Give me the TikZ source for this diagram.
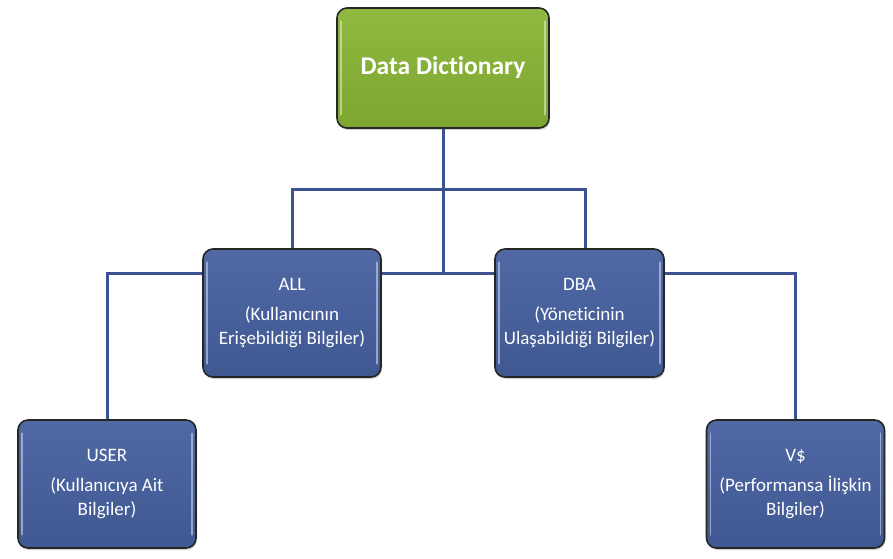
\documentclass[tikz,border=0pt]{standalone}
\usepackage{fontspec}
\setmainfont{Carlito}[Ligatures=NoCommon]
\usetikzlibrary{shadows}
\definecolor{ddgreen}{HTML}{7CA630}
\definecolor{ddgreentop}{HTML}{8FB940}
\definecolor{boxblue}{HTML}{405892}
\definecolor{boxbluetop}{HTML}{5068A4}
\definecolor{linkblue}{HTML}{3D5290}
\tikzset{
  box/.style={draw=black!85, line width=1.6pt, rounded corners=10pt,
    minimum width=178pt, minimum height=128pt, inner sep=2pt,
    align=center, text=white, font=\fontsize{19}{24}\selectfont,
    top color=boxbluetop, bottom color=boxblue,
    drop shadow={shadow xshift=1pt, shadow yshift=-2pt, opacity=0.35}},
  rootbox/.style={box, top color=ddgreentop, bottom color=ddgreen,
    minimum width=212pt, minimum height=120pt,
    font=\fontsize{25.5}{30}\selectfont\bfseries},
  link/.style={draw=linkblue, line width=3pt}
}
\begin{document}
\begin{tikzpicture}[x=1pt, y=-1pt]
  \useasboundingbox (0,0) rectangle (893,558);
  % kutular
  \node[rootbox] (dd) at (443,68) {\raisebox{-3pt}{Data Dictionary}};
  \node[box] (all) at (292,313) {ALL\\[6pt](Kullanıcının\\Erişebildiği Bilgiler)};
  \node[box, minimum width=169pt] (dba) at (579.5,313) {DBA\\[6pt](Yöneticinin\\Ulaşabildiği Bilgiler)};
  \node[box] (user) at (107,484) {USER\\[6pt](Kullanıcıya Ait\\Bilgiler)};
  \node[box] (vs) at (795.5,484) {V\$\\[6pt](Performansa İlişkin\\Bilgiler)};
  % baglantilar
  \coordinate (lvl) at (0,273);
  \coordinate (bar) at (0,189);
  \draw[link] (dd.south) -- (dd.south |- lvl);
  \draw[link] (all.north) -- (all.north |- bar) -| ([xshift=6pt]dba.north);
  \draw[link] (all.east |- lvl) -- (dba.west |- lvl);
  \draw[link] (all.west |- lvl) -| (user.north);
  \draw[link] (dba.east |- lvl) -| (vs.north);
  % parlak kenarlar
  \foreach \n in {dd,all,dba,user,vs} {
    \draw[white, opacity=0.45, line width=1.5pt, line cap=round]
      ([xshift=5pt, yshift=-14pt]\n.north west) -- ([xshift=5pt, yshift=14pt]\n.south west);
    \draw[white, opacity=0.45, line width=1.5pt, line cap=round]
      ([xshift=-5pt, yshift=-14pt]\n.north east) -- ([xshift=-5pt, yshift=14pt]\n.south east);
  }
\end{tikzpicture}
\end{document}
